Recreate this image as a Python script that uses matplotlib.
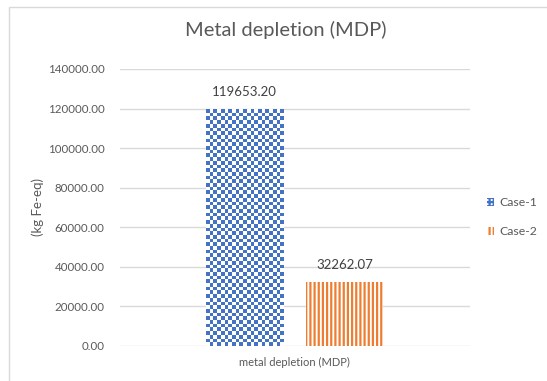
import numpy as np
import matplotlib
matplotlib.use("Agg")
import matplotlib.pyplot as plt
from matplotlib.patches import Patch, Rectangle

categories = ["metal depletion (MDP)"]
series = ["Case-1", "Case-2"]
case1 = [119653.20]
case2 = [32262.07]
y_ticks = [0, 20000, 40000, 60000, 80000, 100000, 120000, 140000]

BLUE = "#4472C4"
ORANGE = "#ED7D31"
GREY_TXT = "#595959"
GRID = "#D9D9D9"

plt.rcParams["font.family"] = ["Lato", "DejaVu Sans"]
plt.rcParams["hatch.linewidth"] = 1.6

fig = plt.figure(figsize=(5.47, 3.81), dpi=100)
ax = fig.add_axes([0.219, 0.092, 0.640, 0.727])

# chart frame
fig.patches.append(Rectangle((9 / 547, -0.05), 1.1, 1 - 7 / 381 + 0.05,
                             transform=fig.transFigure, fill=False,
                             edgecolor=GRID, linewidth=1.0, zorder=0))

x = np.arange(len(categories))
width = 0.22
off = 0.143

ax.set_xlim(-0.5, 0.5)
ax.set_ylim(0, 140000)

bars1 = ax.bar(x - off, case1, width, color="white", linewidth=0, zorder=2)
bars2 = ax.bar(x + off, case2, width, color="white", edgecolor=ORANGE,
               hatch="||||", linewidth=0, zorder=2)

# checkerboard fill for Case-1, sized in pixels
fig.canvas.draw()
for b in bars1:
    x0, y0 = b.get_x(), b.get_y()
    x1, y1 = x0 + b.get_width(), y0 + b.get_height()
    p0 = ax.transData.transform((x0, y0))
    p1 = ax.transData.transform((x1, y1))
    cell = 3.7
    nx = max(1, int(round((p1[0] - p0[0]) / cell)))
    ny = max(1, int(round((p1[1] - p0[1]) / cell)))
    board = (np.add.outer(np.arange(ny), np.arange(nx)) % 2).astype(float)
    cmap = matplotlib.colors.ListedColormap(["white", BLUE])
    im = ax.imshow(board, cmap=cmap, extent=(x0, x1, y0, y1), origin="lower",
                   aspect="auto", interpolation="nearest", zorder=2)
    im.set_clip_path(b)

for bars, vals in ((bars1, case1), (bars2, case2)):
    for b, v in zip(bars, vals):
        ax.annotate(f"{v:.2f}", (b.get_x() + b.get_width() / 2, v),
                    xytext=(0, 8), textcoords="offset points",
                    ha="center", va="bottom", fontsize=9.5, color="#404040")

ax.set_yticks(y_ticks)
ax.set_yticklabels([f"{t:.2f}" for t in y_ticks])
ax.set_xticks(x)
ax.set_xticklabels(categories)
ax.tick_params(axis="both", length=0, colors=GREY_TXT, labelsize=8.3)
ax.tick_params(axis="y", pad=11)
ax.tick_params(axis="x", pad=8, labelsize=8)
ax.grid(axis="y", color=GRID, linewidth=1.0, zorder=0)
ax.set_axisbelow(True)
for s in ax.spines.values():
    s.set_visible(False)

ax.set_ylabel("(kg Fe-eq)", color=GREY_TXT, fontsize=9.5, labelpad=3)
fig.suptitle("Metal depletion (MDP)", x=0.523, y=0.945, fontsize=14.5,
             color=GREY_TXT)

handles = [Patch(facecolor="white", edgecolor=BLUE, hatch="++++", linewidth=0),
           Patch(facecolor="white", edgecolor=ORANGE, hatch="||||", linewidth=0)]
fig.legend(handles, series, loc="center left", bbox_to_anchor=(0.87, 0.43),
           frameon=False, fontsize=8.8, labelcolor=GREY_TXT,
           handlelength=0.6, handleheight=0.6, handletextpad=0.4,
           labelspacing=1.45)

fig.savefig("out.png", dpi=100)
